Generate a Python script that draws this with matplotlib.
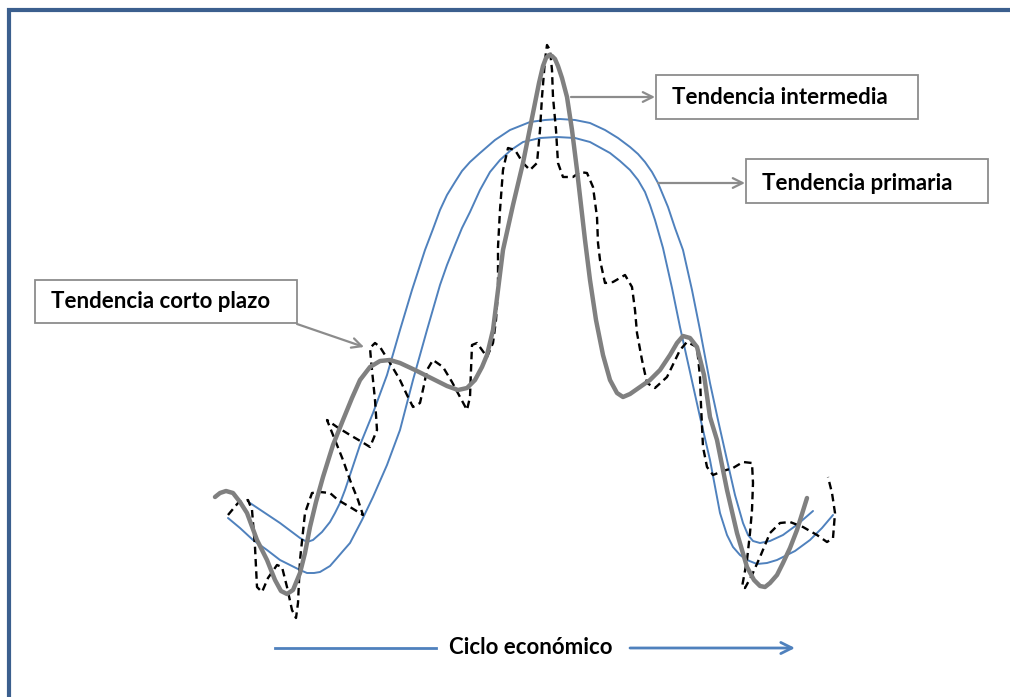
import matplotlib
matplotlib.use("Agg")
import matplotlib.pyplot as plt
from matplotlib.patches import Rectangle

# ---- data (pixel space) ----
inter_x = [215, 220, 226, 233, 240, 247, 257, 267, 275, 281, 287, 293, 300, 305, 310, 316, 323, 333, 343, 352, 360, 370, 380, 390, 400, 415, 433, 447, 458, 467, 475, 482, 487, 493, 498, 503, 513, 523, 533, 539, 543, 546, 549, 552, 555, 558, 562, 567, 572, 577, 581, 585, 590, 596, 603, 610, 617, 623, 630, 640, 650, 660, 670, 677, 683, 690, 697, 704, 710, 717, 727, 737, 747, 754, 760, 765, 770, 777, 783, 790, 797, 807]
inter_y = [497, 493, 491, 493, 502, 513, 540, 560, 580, 591, 594, 590, 573, 553, 527, 502, 477, 445, 420, 398, 380, 367, 361, 360, 363, 370, 379, 386, 390, 388, 380, 367, 355, 330, 290, 250, 205, 163, 113, 83, 66, 58, 55, 56, 59, 66, 78, 97, 130, 170, 205, 240, 280, 320, 355, 380, 393, 397, 394, 387, 380, 370, 355, 343, 336, 338, 347, 375, 417, 440, 490, 533, 567, 580, 586, 587, 583, 575, 563, 548, 530, 498]

prim1_x = [250, 262, 280, 300, 307, 313, 322, 330, 335, 340, 345, 350, 360, 373, 387, 400, 412, 425, 433, 440, 447, 455, 462, 470, 480, 495, 510, 520, 530, 545, 560, 575, 590, 605, 618, 630, 638, 645, 652, 658, 668, 675, 683, 692, 700, 710, 718, 727, 735, 743, 748, 753, 760, 770, 783, 798, 813]
prim1_y = [503, 511, 523, 538, 542, 540, 532, 522, 513, 503, 490, 475, 445, 413, 375, 330, 290, 250, 229, 210, 195, 182, 171, 162, 153, 140, 130, 126, 122, 120, 119, 120, 123, 130, 138, 147, 154, 162, 172, 183, 207, 228, 250, 290, 330, 383, 420, 460, 495, 523, 535, 541, 543, 541, 535, 524, 511]

prim2_x = [228, 240, 253, 267, 280, 292, 300, 307, 314, 320, 330, 337, 343, 350, 362, 373, 387, 400, 413, 427, 440, 447, 455, 462, 470, 480, 490, 500, 511, 523, 540, 557, 575, 590, 610, 620, 630, 638, 645, 650, 655, 663, 672, 680, 690, 700, 710, 720, 727, 733, 740, 747, 757, 767, 777, 795, 810, 822, 833]
prim2_y = [518, 528, 540, 550, 560, 566, 570, 573, 573, 572, 566, 558, 551, 543, 520, 497, 465, 430, 380, 330, 285, 265, 245, 228, 212, 190, 172, 160, 150, 142, 138, 137, 138, 142, 153, 161, 170, 180, 192, 205, 220, 248, 288, 327, 372, 417, 460, 513, 535, 547, 555, 560, 564, 563, 560, 551, 540, 528, 515]

short_x = [228, 238, 248, 252, 255, 257, 262, 268, 277, 282, 287, 292, 296, 298, 300, 305, 312, 320, 330, 338, 350, 363, 358, 350, 343, 335, 327, 337, 350, 362, 370, 377, 375, 373, 371, 370, 375, 380, 390, 400, 407, 413, 420, 424, 427, 433, 443, 452, 460, 467, 470, 471, 472, 477, 482, 487, 490, 493, 496, 498, 498, 500, 503, 508, 515, 523, 530, 537, 540, 542, 545, 547, 550, 552, 553, 556, 558, 563, 573, 580, 587, 593, 597, 598, 600, 605, 613, 625, 632, 635, 637, 642, 647, 655, 667, 680, 687, 697, 700, 701, 703, 707, 713, 723, 733, 743, 752, 753, 752, 750, 747, 742, 745, 752, 760, 770, 780, 790, 803, 817, 827, 833, 835, 832, 828]
short_y = [515, 503, 500, 510, 547, 587, 592, 578, 565, 567, 587, 610, 618, 603, 560, 513, 493, 492, 493, 500, 507, 515, 500, 480, 460, 440, 420, 427, 435, 442, 447, 430, 400, 380, 360, 348, 343, 347, 363, 380, 395, 407, 403, 385, 370, 360, 367, 382, 397, 410, 397, 370, 345, 343, 350, 357, 350, 343, 320, 290, 247, 210, 170, 148, 150, 163, 170, 163, 130, 97, 60, 45, 50, 70, 97, 130, 163, 177, 177, 172, 173, 187, 217, 243, 260, 283, 282, 275, 287, 310, 333, 360, 383, 388, 377, 350, 342, 347, 377, 405, 447, 467, 475, 471, 468, 462, 463, 483, 510, 533, 560, 587, 588, 575, 557, 533, 523, 522, 527, 535, 542, 538, 513, 493, 477]

labels = ["Tendencia intermedia", "Tendencia primaria", "Tendencia corto plazo"]
axis_label = "Ciclo económico"

# ---- figure ----
W, H = 1010, 697
fig = plt.figure(figsize=(W / 100, H / 100), dpi=100)
ax = fig.add_axes([0, 0, 1, 1])
ax.set_xlim(0, W)
ax.set_ylim(H, 0)
ax.axis("off")

frame_c = "#3B5F8E"
ax.plot([9, 9, W], [H, 10, 10], color=frame_c, lw=3.0, solid_capstyle="butt",
        solid_joinstyle="miter")

blue = "#4F81BD"
ax.plot(prim2_x, prim2_y, color=blue, lw=1.4, solid_capstyle="round")
ax.plot(prim1_x, prim1_y, color=blue, lw=1.4, solid_capstyle="round")
ax.plot(short_x, short_y, color="black", lw=1.7, ls=(0, (3.2, 2.0)))
ax.plot(inter_x, inter_y, color="#808080", lw=3.2, solid_capstyle="round")

font = ["Lato", "DejaVu Sans"]
box_c = "#8C8C8C"
boxes = [(656, 75, 918, 119, 672, 97), (746, 159, 988, 203, 762, 183), (35, 280, 297, 323, 51, 302)]
for (x0, y0, x1, y1, tx, ty), lab in zip(boxes, labels):
    ax.add_patch(Rectangle((x0, y0), x1 - x0, y1 - y0, fill=True, facecolor="white",
                           edgecolor=box_c, lw=1.3, zorder=5))
    ax.text(tx, ty, lab, fontsize=16, fontweight="bold", family=font,
            ha="left", va="center", zorder=6)

arr_c = "#8C8C8C"
aprops = dict(arrowstyle="->,head_length=0.7,head_width=0.35", color=arr_c, lw=1.6,
              shrinkA=0, shrinkB=0)
ax.annotate("", xy=(655, 97), xytext=(571, 97), arrowprops=aprops)
ax.annotate("", xy=(745, 183), xytext=(658, 183), arrowprops=aprops)
ax.annotate("", xy=(364, 347), xytext=(297, 324), arrowprops=aprops)

ax.plot([275, 436], [648, 648], color=blue, lw=2.0)
ax.annotate("", xy=(795, 648), xytext=(630, 648),
            arrowprops=dict(arrowstyle="->,head_length=0.8,head_width=0.4", color=blue,
                            lw=2.0, shrinkA=0, shrinkB=0))
ax.text(531, 648, axis_label, fontsize=16, fontweight="bold", family=font,
        ha="center", va="center")

fig.savefig("out.png", dpi=100)
